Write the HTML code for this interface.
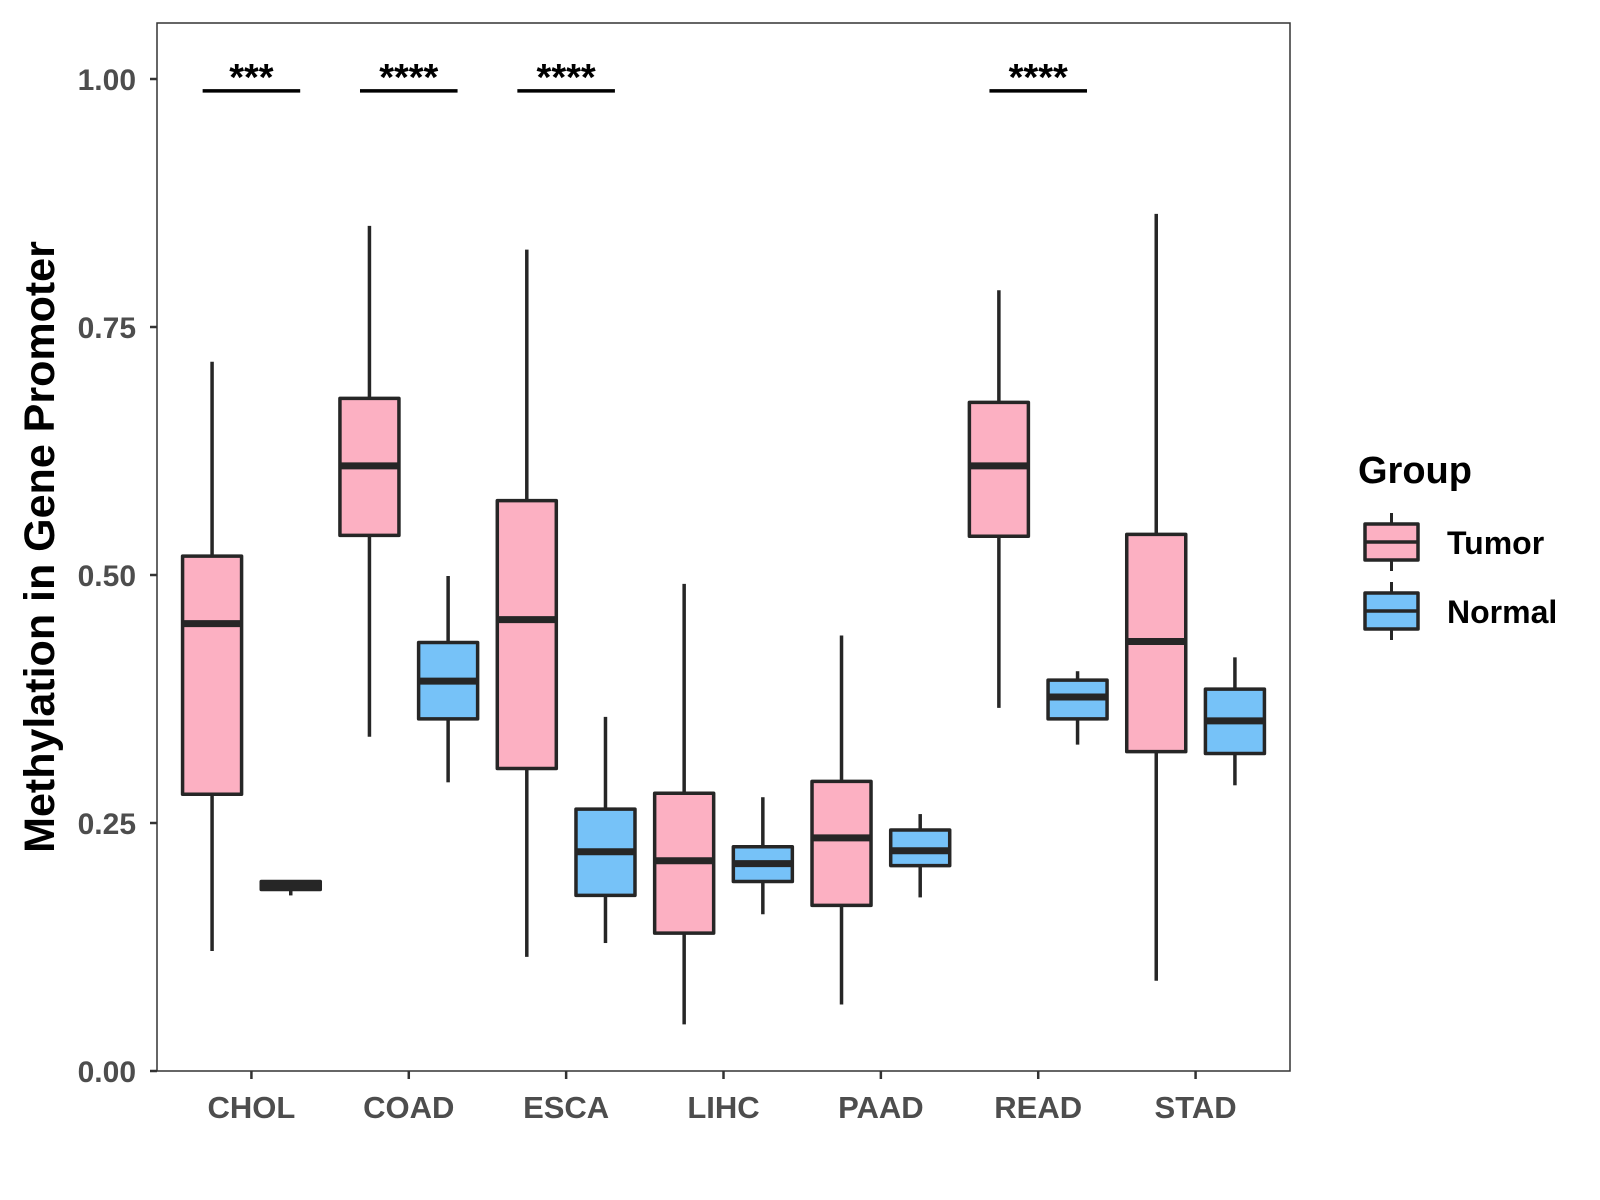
<!DOCTYPE html>
<html><head><meta charset="utf-8"><style>
html,body{margin:0;padding:0;background:#fff;}
svg{display:block;font-family:"Liberation Sans",Arial,sans-serif;}
</style></head><body>
<svg id="chart" width="1600" height="1200" viewBox="0 0 1600 1200"></svg>
<script>
const categories = ["CHOL","COAD","ESCA","LIHC","PAAD","READ","STAD"];
const groups = ["Tumor","Normal"];
// [lowWhisker, Q1, median, Q3, highWhisker]
const tumorStats = [
  [0.121,0.279,0.451,0.519,0.715],
  [0.337,0.540,0.610,0.678,0.852],
  [0.115,0.305,0.455,0.575,0.828],
  [0.047,0.139,0.212,0.280,0.491],
  [0.067,0.167,0.235,0.292,0.439],
  [0.366,0.539,0.610,0.674,0.787],
  [0.091,0.322,0.433,0.541,0.864]
];
const normalStats = [
  [0.177,0.183,0.186,0.191,0.191],
  [0.291,0.355,0.393,0.432,0.499],
  [0.129,0.177,0.221,0.264,0.357],
  [0.158,0.191,0.209,0.226,0.276],
  [0.175,0.207,0.222,0.243,0.259],
  [0.329,0.355,0.377,0.394,0.403],
  [0.288,0.320,0.353,0.385,0.417]
];
const sigLabels = ["***","****","****","","","****",""];
const sigY = 0.988;
const yTicks = [0,0.25,0.5,0.75,1.0];
const yTickLabels = ["0.00","0.25","0.50","0.75","1.00"];

const NS="http://www.w3.org/2000/svg";
const svg=document.getElementById('chart');
const P={l:157,r:1290,t:23,b:1071};
const unit=(P.r-P.l)/7.2;
function xScale(i){return P.l+(0.6+i)*unit;}
function yScale(v){return 1071-v*992;}
const fills=["#FCB0C2","#76C2F8"];
const stroke="#262626";
function mk(tag,attrs,parent){const e=document.createElementNS(NS,tag);for(const k in attrs)e.setAttribute(k,attrs[k]);(parent||svg).appendChild(e);return e;}

const border=mk('rect',{x:P.l,y:P.t,width:P.r-P.l,height:P.b-P.t,fill:'none',stroke:'#333',"stroke-width":1.5});



yTicks.forEach((v,i)=>{
  const y=yScale(v);
  const t=mk('line',{x1:P.l-7,x2:P.l,y1:y,y2:y,stroke:'#333',"stroke-width":2.5});
  
  
  const tx=mk('text',{x:P.l-21,y:y+11,"text-anchor":"end","font-size":30,"font-weight":"bold",fill:"#4d4d4d"});
  tx.textContent=yTickLabels[i];
  
  
});

function drawBox(s,cx,fill,name){
  const g=mk('g',{});
  
  
  const w=unit*0.375;
  const [lo,q1,med,q3,hi]=s;
  mk('line',{x1:cx,x2:cx,y1:yScale(hi),y2:yScale(q3),stroke:stroke,"stroke-width":3.5},g);
  mk('line',{x1:cx,x2:cx,y1:yScale(q1),y2:yScale(lo),stroke:stroke,"stroke-width":3.5},g);
  mk('rect',{x:cx-w/2,y:yScale(q3),width:w,height:Math.max(1,yScale(q1)-yScale(q3)),fill:fill,stroke:stroke,"stroke-width":3.5,"stroke-linejoin":"round"},g);
  mk('line',{x1:cx-w/2,x2:cx+w/2,y1:yScale(med),y2:yScale(med),stroke:stroke,"stroke-width":7},g);
}
categories.forEach((c,i)=>{
  const cx=xScale(i);
  drawBox(tumorStats[i],cx-unit*0.25,fills[0],'box-tumor-'+c.toLowerCase());
  drawBox(normalStats[i],cx+unit*0.25,fills[1],'box-normal-'+c.toLowerCase());
  const t=mk('line',{x1:cx,x2:cx,y1:P.b,y2:P.b+8,stroke:'#333',"stroke-width":2.5});
  
  
  const tx=mk('text',{x:cx,y:1118,"text-anchor":"middle","font-size":31,"font-weight":"bold",fill:"#4d4d4d"});
  tx.textContent=c;
  
  
  if(sigLabels[i]){
    const y=yScale(sigY);
    const b=mk('line',{x1:cx-unit*0.31,x2:cx+unit*0.31,y1:y,y2:y,stroke:'#000',"stroke-width":3.5});
    
    
    const st=mk('text',{x:cx,y:y-1,"text-anchor":"middle","font-size":38,"font-weight":"bold",fill:"#000"});
    st.textContent=sigLabels[i];
    
    
  }
});

const yt=mk('text',{x:0,y:0,transform:"translate(54,547) rotate(-90)","text-anchor":"middle","font-size":43,"font-weight":"bold",fill:"#000"});
yt.textContent="Methylation in Gene Promoter";



const lg=mk('g',{});


const lt=mk('text',{x:1358,y:483,"font-size":38,"font-weight":"bold",fill:"#000"},lg);
lt.textContent="Group";


const keyY=[524,593];
groups.forEach((gname,i)=>{
  const e=mk('g',{},lg);
  
  
  const y0=keyY[i],cx=1391.5;
  mk('line',{x1:cx,x2:cx,y1:y0-11,y2:y0+47,stroke:stroke,"stroke-width":3},e);
  mk('rect',{x:1365,y:y0,width:53,height:36,fill:fills[i],stroke:stroke,"stroke-width":3.5,"stroke-linejoin":"round"},e);
  mk('line',{x1:1365,x2:1418,y1:y0+18,y2:y0+18,stroke:stroke,"stroke-width":3.5},e);
  const t=mk('text',{x:1447,y:y0+30,"font-size":32,"font-weight":"bold",fill:"#000"},e);
  t.textContent=gname;
});
</script>
</body></html>
